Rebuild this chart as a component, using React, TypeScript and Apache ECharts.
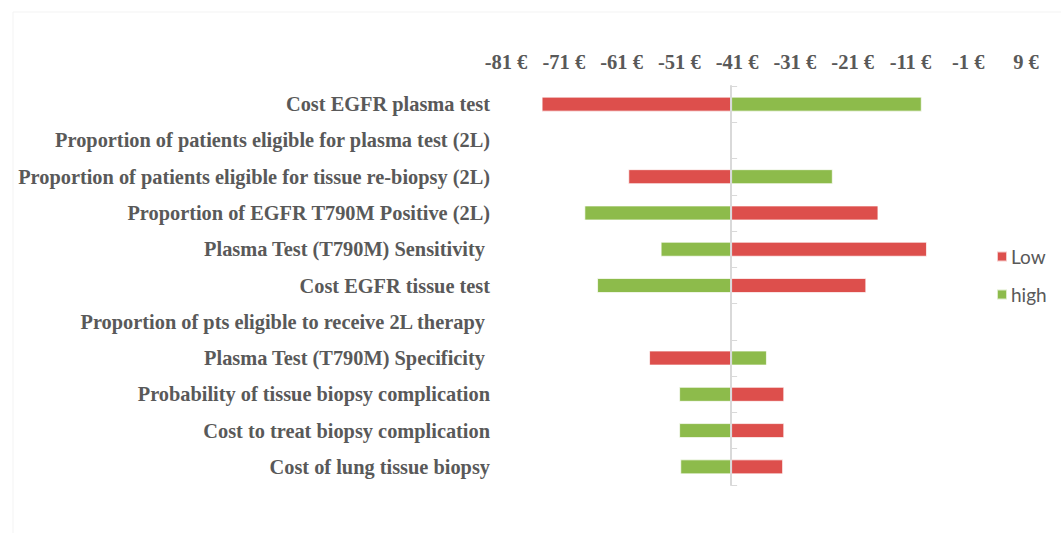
import React, { useEffect, useRef } from "react";
import * as echarts from "echarts";

const BASE = -41;
const categories = [
  "Cost EGFR plasma test",
  "Proportion of patients eligible for plasma test (2L)",
  "Proportion of patients eligible for tissue re-biopsy (2L)",
  "Proportion of EGFR T790M Positive (2L)",
  "Plasma Test (T790M) Sensitivity ",
  "Cost EGFR tissue test",
  "Proportion of pts eligible to receive 2L therapy ",
  "Plasma Test (T790M) Specificity ",
  "Probability of tissue biopsy complication",
  "Cost to treat biopsy complication",
  "Cost of lung tissue biopsy",
];
const lowValues = [-73.8, -41, -58.8, -15.5, -7.1, -17.6, -41, -55.2, -31.8, -31.8, -32];
const highValues = [-8.0, -41, -23.4, -66.4, -53.2, -64.2, -41, -34.8, -50, -50, -49.8];
const axisMin = -81;
const axisMax = 9;
const axisStep = 10;

export default function App() {
  const ref = useRef<HTMLDivElement>(null);
  useEffect(() => {
    document.body.style.margin = "0";
    const chart = echarts.init(ref.current!, undefined, { renderer: "svg" });
    const serif = "'Liberation Serif', 'Times New Roman', serif";
    const gridLeft = 500;
    const gridRight = 41;
    const plotW = 1061 - gridLeft - gridRight;
    const zeroX = gridLeft + ((0 - (axisMin - BASE)) / (axisMax - axisMin)) * plotW;
    chart.setOption({
      animation: false,
      backgroundColor: "#ffffff",
      graphic: [
        {
          type: "rect",
          shape: { x: 13, y: 12, width: 1100, height: 600 },
          style: { fill: "none", stroke: "#f3f3f3", lineWidth: 1 },
          silent: true,
          z: -1,
        },
      ],
      grid: { left: gridLeft, right: gridRight, top: 86, bottom: 48 },
      legend: {
        orient: "vertical",
        left: 991,
        top: 242,
        itemWidth: 10,
        itemHeight: 10,
        itemGap: 19,
        icon: "rect",
        textStyle: { fontFamily: "Lato, 'Liberation Sans', sans-serif", fontSize: 19, color: "#595959", padding: [0, 0, 0, -1] },
        data: ["Low", "high"],
      },
      xAxis: {
        type: "value",
        position: "top",
        min: axisMin - BASE,
        max: axisMax - BASE,
        interval: axisStep,
        axisLine: { show: false },
        axisTick: { show: false },
        splitLine: { show: false },
        axisLabel: {
          formatter: (v: number) => `${v + BASE} €`,
          fontFamily: serif,
          fontWeight: "bold",
          fontSize: 20.5,
          color: "#595959",
          margin: 14,
          padding: [0, 0, 0, 12],
        },
      },
      yAxis: [
        {
          type: "category",
          inverse: true,
          data: categories,
          position: "left",
          axisLine: { show: false },
          axisTick: { show: false },
          axisLabel: {
            fontFamily: serif,
            fontWeight: "bold",
            fontSize: 20.35,
            color: "#595959",
            margin: 10,
          },
        },
        {
          type: "category",
          inverse: true,
          data: categories,
          position: "right",
          offset: -(gridLeft + plotW - zeroX),
          z: 3,
          axisLine: { show: true, onZero: false, lineStyle: { color: "#d9d9d9", width: 2 } },
          axisTick: { show: true, inside: false, length: 6, lineStyle: { color: "#d9d9d9", width: 1 } },
          axisLabel: { show: false },
        },
      ],
      series: [
        {
          name: "Low",
          type: "bar",
          data: lowValues.map((v) => +(v - BASE).toFixed(2)),
          barWidth: 15,
          barGap: "-100%",
          itemStyle: { color: "#dd4f4c", borderColor: "rgba(255,255,255,0.7)", borderWidth: 1 },
        },
        {
          name: "high",
          type: "bar",
          data: highValues.map((v) => +(v - BASE).toFixed(2)),
          barWidth: 15,
          barGap: "-100%",
          itemStyle: { color: "#8dbb4b", borderColor: "rgba(255,255,255,0.7)", borderWidth: 1 },
        },
      ],
    });
    return () => chart.dispose();
  }, []);
  return <div ref={ref} style={{ width: 1061, height: 533 }} />;
}
